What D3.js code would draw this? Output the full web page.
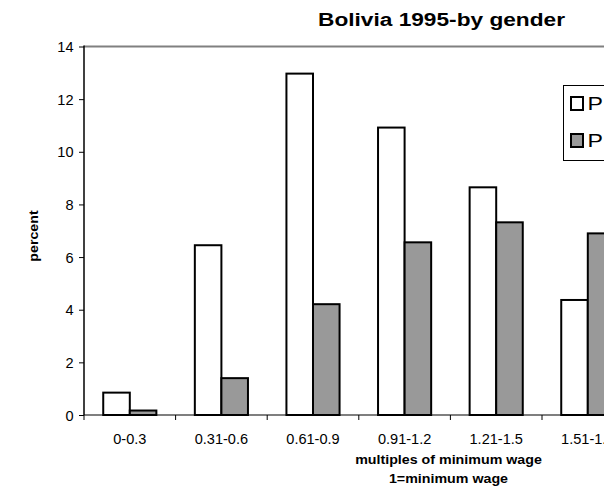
<!DOCTYPE html>
<html><head><meta charset="utf-8">
<script src="https://cdn.jsdelivr.net/npm/d3@7"></script>
<style>body{margin:0;background:#fff;overflow:hidden}svg{display:block}</style>
</head><body><svg id="c" width="604" height="491"></svg>
<script>
const categories = ["0-0.3","0.31-0.6","0.61-0.9","0.91-1.2","1.21-1.5","1.51-1.8"];
const seriesA = [0.85, 6.45, 12.97, 10.92, 8.65, 4.37];
const seriesB = [0.17, 1.40, 4.21, 6.56, 7.32, 6.90];
const seriesNames = ["P", "P"];
const yTicks = [0, 2, 4, 6, 8, 10, 12, 14];
const titleText = "Bolivia 1995-by gender";
const yTitle = "percent";
const xTitle = ["multiples of minimum wage", "1=minimum wage"];

const FONT = "'Liberation Sans', Arial, sans-serif";
const svg = d3.select("#c");
const pLeft = 84, pTop = 46.5, pBottom = 415, stepW = 91.6;
const pRight = pLeft + stepW * 8;
const colors = ["#ffffff", "#999999"];

const x = d3.scaleBand().domain(categories)
  .range([pLeft, pLeft + stepW * categories.length])
  .paddingInner(0.42).paddingOuter(0.21);
const xs = d3.scaleBand().domain([0, 1]).range([0, x.bandwidth()]);
const y = d3.scaleLinear().domain([0, 14]).range([pBottom, pTop]);

function stretchedText(g, tx, ty, txt, size, weight, anchor, sx) {
  return g.append("text")
    .attr("transform", `translate(${tx},${ty}) scale(${sx},1)`)
    .attr("text-anchor", anchor || "middle")
    .attr("font-family", FONT).attr("font-size", size)
    .attr("font-weight", weight || "normal").attr("fill", "#000")
    .text(txt);
}

// top plot border
svg.append("line").attr("x1", pLeft).attr("x2", pRight)
  .attr("y1", pTop).attr("y2", pTop).attr("stroke", "#808080").attr("stroke-width", 2);

// bars
const data = categories.map((c, i) => ({c, v: [seriesA[i], seriesB[i]]}));
const grp = svg.append("g").selectAll("g").data(data).join("g")
  .attr("transform", d => `translate(${x(d.c)},0)`);
grp.selectAll("rect").data(d => d.v.map((v, k) => ({v, k}))).join("rect")
  .attr("x", d => xs(d.k)).attr("width", xs.bandwidth())
  .attr("y", d => y(d.v)).attr("height", d => y(0) - y(d.v))
  .attr("fill", d => colors[d.k]).attr("stroke", "#000").attr("stroke-width", 2);

// y axis
const ya = svg.append("g").attr("transform", `translate(${pLeft},0)`)
  .call(d3.axisLeft(y).tickValues(yTicks).tickSize(5).tickFormat(d3.format("d")));
ya.select(".domain").remove();
ya.selectAll(".tick line").attr("stroke", "#000").attr("stroke-width", 1);
ya.selectAll(".tick text")
  .attr("x", 0).attr("dy", "0.36em")
  .attr("transform", `translate(-10.5,0) scale(1.04,1)`)
  .attr("font-family", FONT).attr("font-size", 14).attr("fill", "#000");
svg.append("line").attr("x1", pLeft).attr("x2", pLeft).attr("y1", pTop - 1).attr("y2", pBottom)
  .attr("stroke", "#000").attr("stroke-width", 1.5);

// x axis
const xa = svg.append("g").attr("transform", `translate(0,${pBottom})`)
  .call(d3.axisBottom(x).tickSize(0));
xa.select(".domain").remove();
xa.selectAll(".tick line").remove();
xa.selectAll(".tick text")
  .attr("y", 0).attr("dy", 0)
  .attr("transform", `translate(0,29) scale(1.04,1)`)
  .attr("font-family", FONT).attr("font-size", 14).attr("fill", "#000");
const bounds = d3.range(categories.length + 1).map(i => x.step() * i + pLeft);
svg.append("g").selectAll("line").data(bounds).join("line")
  .attr("x1", d => d).attr("x2", d => d).attr("y1", pBottom).attr("y2", pBottom + 5)
  .attr("stroke", "#000").attr("stroke-width", 1);
svg.append("line").attr("x1", pLeft).attr("x2", pRight).attr("y1", pBottom).attr("y2", pBottom)
  .attr("stroke", "#000").attr("stroke-width", 1.2);

// titles
stretchedText(svg, 441.5, 26, titleText, 17.5, "bold", "middle", 1.296);
stretchedText(svg, 448.5, 464, xTitle[0], 13.7, "bold", "middle", 1.04);
stretchedText(svg, 448.5, 483, xTitle[1], 13.7, "bold", "middle", 1.04);
svg.append("text")
  .attr("transform", `translate(38,236) rotate(-90) scale(1.04,1)`)
  .attr("text-anchor", "middle").attr("font-family", FONT)
  .attr("font-size", 13.7).attr("font-weight", "bold").attr("fill", "#000")
  .text(yTitle);

// legend
const lg = svg.append("g");
lg.append("rect").attr("x", 563.5).attr("y", 85.5).attr("width", 120).attr("height", 75)
  .attr("fill", "#fff").attr("stroke", "#000").attr("stroke-width", 1);
seriesNames.forEach((n, i) => {
  const cy = 103.5 + i * 37;
  lg.append("rect").attr("x", 571).attr("y", cy - 6.5).attr("width", 12).attr("height", 13)
    .attr("fill", colors[i]).attr("stroke", "#000").attr("stroke-width", 2);
  stretchedText(lg, 587.5, cy + 6.5, n, 18.5, "normal", "start", 1.25);
});
</script>
</body></html>
